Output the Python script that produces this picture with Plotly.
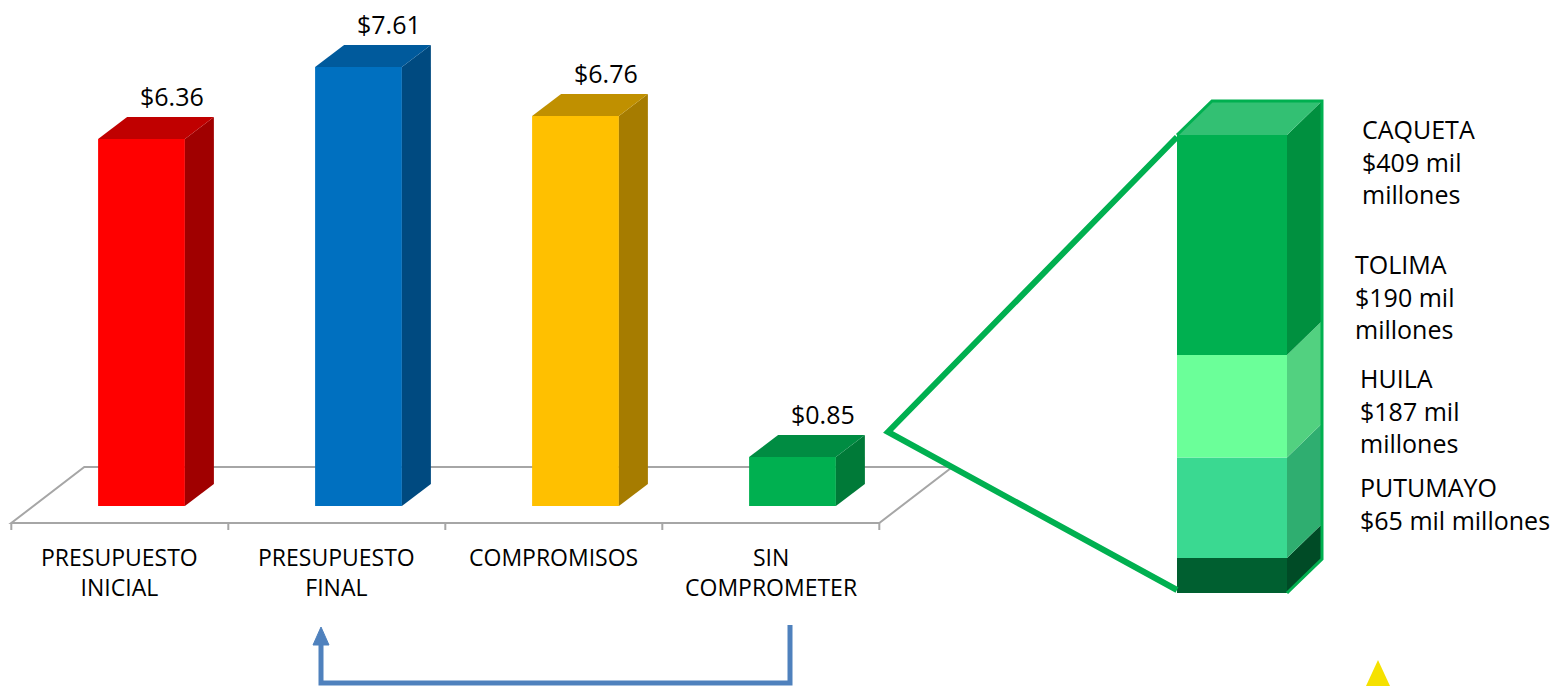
import numpy as np
import plotly.graph_objects as go

# ---------------- data ----------------
categorias = ["PRESUPUESTO<br>INICIAL", "PRESUPUESTO<br>FINAL", "COMPROMISOS", "SIN<br>COMPROMETER"]
valores = [6.36, 7.61, 6.76, 0.85]            # billones de pesos
etiquetas_valor = ["$6.36", "$7.61", "$6.76", "$0.85"]

departamentos = ["PUTUMAYO", "HUILA", "TOLIMA", "CAQUETA"]   # de abajo hacia arriba
montos = [65, 187, 190, 409]                                  # mil millones
etiquetas_dep = ["PUTUMAYO<br>$65 mil millones",
                 "HUILA<br>$187 mil<br>millones",
                 "TOLIMA<br>$190 mil<br>millones",
                 "CAQUETA<br>$409 mil<br>millones"]

# ---------------- styles ----------------
W, H = 1556, 686
FONT = "Open Sans"
c_front = ["#ff0000", "#0070c0", "#ffc000", "#00b050"]
c_side = ["#a00000", "#004a80", "#a67c00", "#007a38"]
c_top = ["#c00000", "#005a9c", "#c09000", "#008c42"]
s_front = ["#005f30", "#3ad991", "#6bff99", "#00b050"]
s_side = ["#004b26", "#2fae70", "#52d180", "#00903f"]
s_top = "#33c073"
GREEN = "#00b050"
GRAY = "#a6a6a6"
BLUE = "#4f81bd"

# axis scales (pixels per unit) used to derive ranges
X0, SX = 141.5, 217.0           # main x: px = X0 + SX*x
Y0, SY = 506.0, 57.7            # main y: px = Y0 - SY*v
X0b, SXb = 1232.0, 137.5        # stacked x
Y0b = 593.0
SYb = 458.0 / sum(montos)       # stacked y

BW = 0.4                        # bar width (main)
BWb = 0.8                       # bar width (stacked)
DX, DY = 29 / SX, 22 / SY       # 3D depth (main)
DXb, DYb = 35 / SXb, 34 / SYb   # 3D depth (stacked)


def px(xp):
    return xp / W


def py(yp):
    return 1 - yp / H


fig = go.Figure()

# ---------------- main 3D bars ----------------
xs = np.arange(len(valores))
fig.add_trace(go.Bar(x=xs, y=valores, width=BW, marker=dict(color=c_front, line=dict(width=0)),
                     xaxis="x", yaxis="y", hoverinfo="skip"))
for i, v in enumerate(valores):
    xr = xs[i] + BW / 2
    xl = xs[i] - BW / 2
    fig.add_trace(go.Scatter(x=[xr, xr + DX, xr + DX, xr, xr], y=[0, DY, v + DY, v, 0],
                             fill="toself", fillcolor=c_side[i], mode="lines", line=dict(width=0),
                             xaxis="x", yaxis="y", hoverinfo="skip"))
    fig.add_trace(go.Scatter(x=[xl, xl + DX, xr + DX, xr, xl], y=[v, v + DY, v + DY, v, v],
                             fill="toself", fillcolor=c_top[i], mode="lines", line=dict(width=0),
                             xaxis="x", yaxis="y", hoverinfo="skip"))

# ---------------- stacked 3D bar (desglose) ----------------
bases = np.concatenate([[0], np.cumsum(montos)[:-1]])
tops = np.cumsum(montos)
total = tops[-1]
for k, (b, m) in enumerate(zip(bases, montos)):
    fig.add_trace(go.Bar(x=[0], y=[m], base=[b], width=BWb,
                         marker=dict(color=s_front[k], line=dict(width=0)),
                         xaxis="x2", yaxis="y2", hoverinfo="skip"))
    xr = BWb / 2
    t = b + m
    fig.add_trace(go.Scatter(x=[xr, xr + DXb, xr + DXb, xr, xr], y=[b, b + DYb, t + DYb, t, b],
                             fill="toself", fillcolor=s_side[k], mode="lines", line=dict(width=0),
                             xaxis="x2", yaxis="y2", hoverinfo="skip"))
xl, xr = -BWb / 2, BWb / 2
fig.add_trace(go.Scatter(x=[xl, xl + DXb, xr + DXb, xr, xl], y=[total, total + DYb, total + DYb, total, total],
                         fill="toself", fillcolor=s_top, mode="lines", line=dict(width=0),
                         xaxis="x2", yaxis="y2", hoverinfo="skip"))
fig.add_trace(go.Scatter(x=[xl, xl + DXb, xr + DXb, xr + DXb, xr],
                         y=[total, total + DYb, total + DYb, DYb, 0],
                         mode="lines", line=dict(color=GREEN, width=3),
                         xaxis="x2", yaxis="y2", hoverinfo="skip"))

shapes = []
# floor of the 3D chart (main axes coordinates)
n = len(valores)
f_front, f_back = -0.295, 0.676
f_shift = 73 / SX
xa, xb = -0.6, n - 0.6
floor_path = (f"M {xa},{f_front} L {xb},{f_front} L {xb + f_shift},{f_back} "
              f"L {xa + f_shift},{f_back} Z")
shapes.append(dict(type="path", path=floor_path, xref="x", yref="y",
                   line=dict(color=GRAY, width=2), layer="below"))
for k in range(n + 1):
    shapes.append(dict(type="line", xref="x", yref="y", x0=xa + k, x1=xa + k,
                       y0=f_front, y1=f_front - 7 / SY, line=dict(color=GRAY, width=2), layer="below"))

# callout lines
shapes.append(dict(type="path", xref="paper", yref="paper",
                   path=f"M {px(1177)},{py(137)} L {px(888)},{py(432)} L {px(1177)},{py(590)}",
                   line=dict(color=GREEN, width=6)))
# blue bracket arrow
shapes.append(dict(type="path", xref="paper", yref="paper",
                   path=f"M {px(790)},{py(625)} L {px(790)},{py(683)} L {px(321)},{py(683)} L {px(321)},{py(642)}",
                   line=dict(color=BLUE, width=5)))
shapes.append(dict(type="path", xref="paper", yref="paper",
                   path=f"M {px(321)},{py(627)} L {px(313)},{py(645)} L {px(329)},{py(645)} Z",
                   fillcolor=BLUE, line=dict(color=BLUE, width=1)))
# small yellow triangle
shapes.append(dict(type="path", xref="paper", yref="paper",
                   path=f"M {px(1378)},{py(660)} L {px(1366)},{py(686)} L {px(1390)},{py(686)} Z",
                   fillcolor="#f5e100", line=dict(width=0)))

annotations = []
# value labels
for i, (v, t) in enumerate(zip(valores, etiquetas_valor)):
    annotations.append(dict(x=xs[i] + 0.14, y=v, xref="x", yref="y", text=t, showarrow=False,
                            yshift=43, yanchor="middle", xanchor="center",
                            font=dict(family=FONT, size=25, color="#000")))
# category labels
for i, c in enumerate(categorias):
    annotations.append(dict(x=xs[i] - 0.1, y=py(539), xref="x", yref="paper", text=c, showarrow=False,
                            yanchor="top", xanchor="center", align="center",
                            font=dict(family=FONT, size=23, color="#000")))
# department labels
dep_pos = [(1358, 503), (1358, 410), (1353, 297), (1360, 161)]
for (xp, yp), t in zip(dep_pos, etiquetas_dep):
    annotations.append(dict(x=px(xp), y=py(yp), xref="paper", yref="paper", text=t, showarrow=False,
                            xanchor="left", yanchor="middle", align="left",
                            font=dict(family=FONT, size=25, color="#000")))

fig.update_layout(
    width=W, height=H, autosize=False,
    margin=dict(l=0, r=0, t=0, b=0, pad=0),
    paper_bgcolor="white", plot_bgcolor="white",
    showlegend=False, barmode="overlay",
    xaxis=dict(domain=[0, 1], range=[-X0 / SX, (W - X0) / SX], visible=False, fixedrange=True),
    yaxis=dict(domain=[0, 1], range=[(Y0 - H) / SY, Y0 / SY], visible=False, fixedrange=True),
    xaxis2=dict(domain=[0, 1], range=[-X0b / SXb, (W - X0b) / SXb], visible=False,
                overlaying="x", anchor="y2", fixedrange=True),
    yaxis2=dict(domain=[0, 1], range=[(Y0b - H) / SYb, Y0b / SYb], visible=False,
                overlaying="y", anchor="x2", fixedrange=True),
    shapes=shapes, annotations=annotations,
)

fig.write_html("out.html", config={"displayModeBar": False},
               post_script="document.body.style.margin='0';document.body.style.overflow='hidden';")
